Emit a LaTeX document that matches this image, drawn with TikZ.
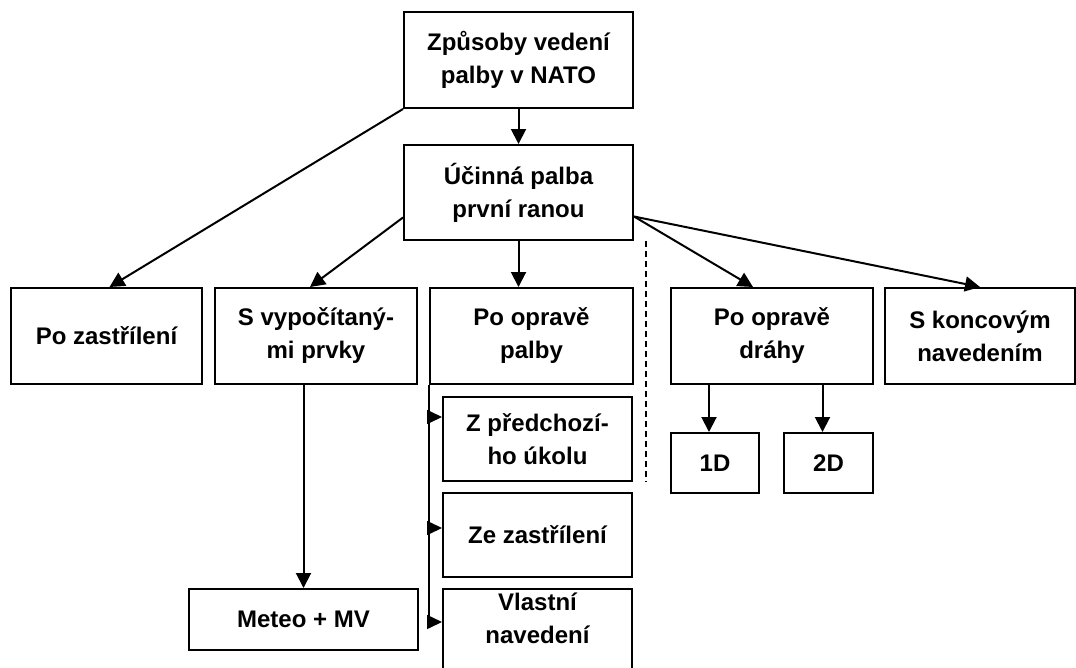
\documentclass[tikz,border=0pt]{standalone}
\usepackage{fontspec}
\setmainfont{Liberation Sans}
\usetikzlibrary{arrows.meta}
\begin{document}
\begin{tikzpicture}[x=1pt,y=1pt,
  box/.style={draw,line width=2pt,align=center,inner sep=0pt,
    font=\fontsize{24}{33}\selectfont\bfseries},
  arr/.style={draw,line width=2pt,-{Triangle[length=15pt,width=15pt]}},
  thinarr/.style={draw,line width=1.5pt,-{Triangle[length=15pt,width=14pt]}},
  guide/.style={draw,line width=1.5pt,dash pattern=on 6pt off 4pt}]
\useasboundingbox (0,0) rectangle (1076,-667);
\node[box,minimum width=229,minimum height=96] (top) at (518.5,-60) {Způsoby vedení\\palby v NATO};
\node[box,minimum width=229,minimum height=95] (eff) at (518.5,-192.5) {Účinná palba\\první ranou};
\node[box,minimum width=191,minimum height=96] (pz) at (106.5,-336) {Po zastřílení};
\node[box,minimum width=202,minimum height=96] (sv) at (316,-336) {S vypočítaný-\\mi prvky};
\node[box,minimum width=203,minimum height=96] (pop) at (531.5,-336) {Po opravě\\palby};
\node[box,minimum width=189,minimum height=84] (zp) at (537.5,-439) {Z předchozí-\\ho úkolu};
\node[box,minimum width=189,minimum height=84] (zz) at (537.5,-535) {Ze zastřílení};
\node[box,minimum width=189,minimum height=84] (vn) at (537.5,-631) {};
\node[font=\fontsize{24}{33}\selectfont\bfseries,align=center] (vnt) at ([yshift=-30]vn.north) {Vlastní\\navedení};
\node[box,minimum width=202,minimum height=96] (pod) at (772,-336) {Po opravě\\dráhy};
\node[box,minimum width=190,minimum height=96] (sk) at (980,-336) {S koncovým\\navedením};
\node[box,minimum width=88,minimum height=60] (d1) at (715,-463) {1D};
\node[box,minimum width=89,minimum height=60] (d2) at (828.5,-463) {2D};
\node[box,minimum width=229,minimum height=61] (mv) at (303.5,-619.5) {Meteo + MV};
% connectors
\draw[arr] (top.south) -- (eff.north);
\draw[arr] (top.south west) -- ([xshift=3]pz.north);
\draw[arr] ([yshift=-25]eff.west) -- ([xshift=-6]sv.north);
\draw[arr] (eff.south) -- (eff.south |- pop.north);
\draw[arr] ([yshift=-24]eff.east) -- ([xshift=-19]pod.north);
\draw[arr] ([yshift=-24]eff.east) -- (sk.north);
\draw[arr] ([xshift=-6]d1.north |- pod.south) -- ([xshift=-6]d1.north);
\draw[arr] ([xshift=-6]d2.north |- pod.south) -- ([xshift=-6]d2.north);
\draw[arr] (mv.north |- sv.south) -- (mv.north);
\coordinate (a1) at ([yshift=22]zp.west);
\coordinate (a2) at ([yshift=7]zz.west);
\coordinate (a3) at ([yshift=9]vn.west);
\draw[line width=1.5pt] (pop.south west) -- (pop.south west |- a3);
\draw[thinarr] (pop.south west |- a1) -- (a1);
\draw[thinarr] (pop.south west |- a2) -- (a2);
\draw[thinarr] (pop.south west |- a3) -- (a3);
\coordinate (g1) at ([xshift=12]eff.south east);
\coordinate (g2) at (g1 |- zp.south);
\draw[guide] (g1) -- (g2);
\end{tikzpicture}
\end{document}
